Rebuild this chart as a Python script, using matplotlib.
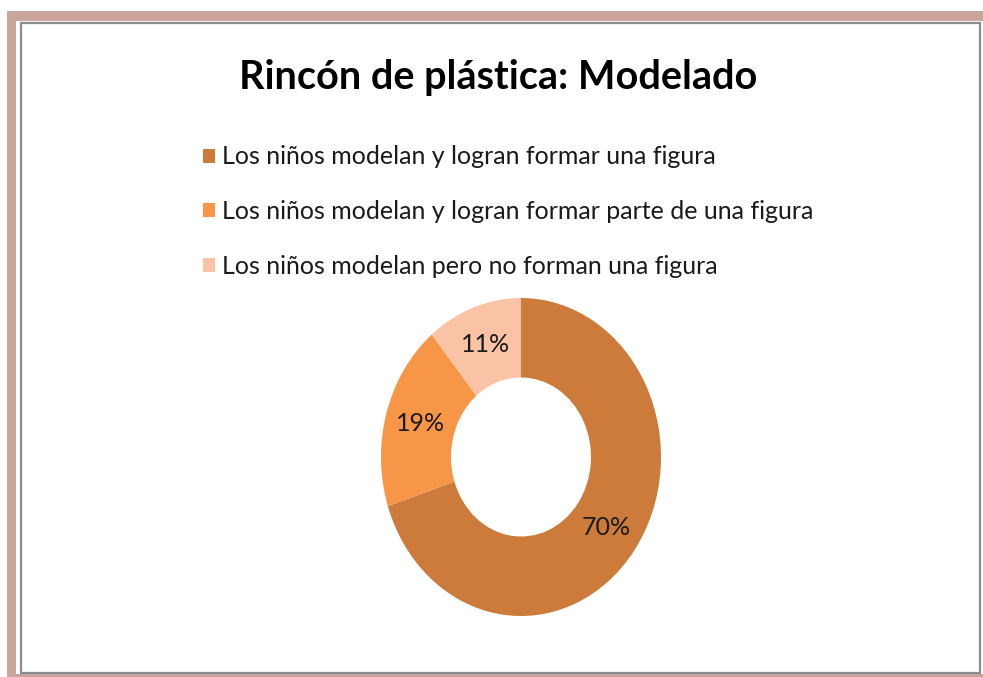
import matplotlib.pyplot as plt
from matplotlib.patches import Rectangle

labels = [
    "Los niños modelan y logran formar una figura",
    "Los niños modelan y logran formar parte de una figura",
    "Los niños modelan pero no forman una figura",
]
values = [70, 19, 11]
colors = ["#CC7B3A", "#F79646", "#FAC3A6"]

plt.rcParams["font.family"] = ["Lato", "DejaVu Sans"]

W, H = 983, 677
fig = plt.figure(figsize=(W / 100, H / 100), dpi=100)


def px_rect(x0, y0, x1, y1, **kw):
    # rectangle given in pixel coords measured from the top-left corner
    return Rectangle((x0 / W, 1 - y1 / H), (x1 - x0) / W, (y1 - y0) / H,
                     transform=fig.transFigure, **kw)


# frame: pink outer band, white gap, gray line
fig.patches.append(px_rect(7, 11, 983, 677, facecolor="#C9A59B",
                           edgecolor="none", zorder=-3))
fig.patches.append(px_rect(16, 21, 983, 674, facecolor="white",
                           edgecolor="none", zorder=-2))
fig.patches.append(px_rect(20.5, 23, 980, 673, facecolor="white",
                           edgecolor="#8C8C8C", linewidth=1.6, zorder=-1))

# donut is stretched vertically, so use an axes box of 280 x 318 px
cx, cy, rx, ry = 521, 457, 140, 159
ax = fig.add_axes([(cx - rx) / W, (H - cy - ry) / H, 2 * rx / W, 2 * ry / H])
wedges, texts, autotexts = ax.pie(
    values, colors=colors, startangle=90, counterclock=False,
    autopct="%d%%", pctdistance=0.75, radius=1,
    wedgeprops=dict(width=0.5, edgecolor="none"),
    textprops=dict(fontsize=18, color="#1a1a1a"),
)
ax.set_aspect("auto")
ax.set_xlim(-1, 1)
ax.set_ylim(-1, 1)
ax.axis("off")

fig.text(498 / W, 1 - 78 / H, "Rincón de plástica: Modelado",
         ha="center", va="center", fontsize=28.5, fontweight="bold", color="black")

fig.legend(wedges, labels, loc="upper left",
           bbox_to_anchor=(180 / W, 1 - 123 / H), frameon=False,
           fontsize=18, handlelength=0.5, handleheight=0.5, handletextpad=0.3,
           labelspacing=1.26, labelcolor="#1a1a1a")

fig.savefig("out.png", dpi=100)
